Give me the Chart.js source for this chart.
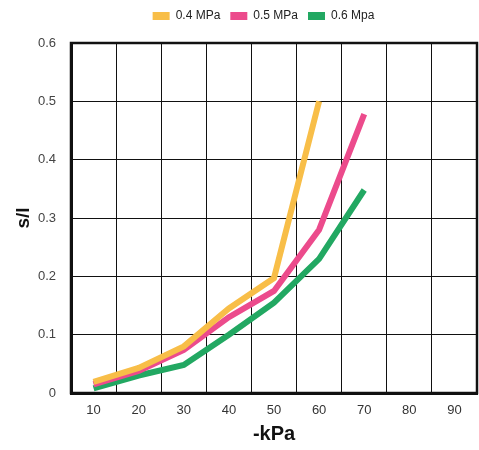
<!DOCTYPE html>
<html>
<head>
<meta charset="utf-8">
<script src="https://cdn.jsdelivr.net/npm/chart.js@4/dist/chart.umd.min.js"></script>
<style>
  html, body { margin: 0; padding: 0; background: #fff; }
  #wrap { width: 479px; height: 450px; }
</style>
</head>
<body>
<div id="wrap"><canvas id="c" width="479" height="450"></canvas></div>
<script>
// s/l vs suction, three pressure curves
const categories = ["10", "20", "30", "40", "50", "60", "70", "80", "90"];
const seriesNames = ["0.4 MPa", "0.5 MPa", "0.6 Mpa"];
const seriesColors = ["#f8be48", "#ec4b8c", "#22a862"];
const mpa04 = [0.019, 0.043, 0.08, 0.145, 0.197, 0.5, null, null, null];
const mpa05 = [0.015, 0.038, 0.074, 0.13, 0.175, 0.28, 0.478, null, null];
const mpa06 = [0.008, 0.03, 0.048, 0.1, 0.155, 0.23, 0.348, null, null];
const yTicks = [0, 0.1, 0.2, 0.3, 0.4, 0.5, 0.6];

const FONT = "'Liberation Sans', Arial, sans-serif";

// frame round the plot area (top + right edges are thick in the original)
const frame = {
  id: "frame",
  afterDatasetsDraw(chart) {
    const { ctx, chartArea: a } = chart;
    ctx.save();
    ctx.strokeStyle = "#111";
    ctx.lineWidth = 2.5;
    ctx.strokeRect(a.left, a.top, a.right - a.left, a.bottom - a.top);
    ctx.restore();
  },
};

// legend: a bit more room under it, and centred over the plot not the canvas
const legendTweak = {
  id: "legendTweak",
  beforeInit(chart) {
    const lg = chart.legend;
    const fit = lg.fit.bind(lg);
    lg.fit = function () { fit(); this.height += 11; };
  },
  afterLayout(chart) {
    chart.legend.left += 25;
    chart.legend.right += 25;
  },
};

new Chart(document.getElementById("c"), {
  type: "line",
  data: {
    labels: categories,
    datasets: [mpa04, mpa05, mpa06].map((d, i) => ({
      label: seriesNames[i],
      data: d,
      borderColor: seriesColors[i],
      backgroundColor: seriesColors[i],
      borderWidth: 6,
      pointRadius: 0,
      tension: 0,
      borderCapStyle: "butt",
      borderJoinStyle: "miter",
      spanGaps: false,
    })),
  },
  options: {
    responsive: false,
    animation: false,
    layout: { padding: { top: 0, right: 2, left: 0, bottom: 0 } },
    plugins: {
      tooltip: { enabled: false },
      legend: {
        position: "top",
        labels: {
          boxWidth: 17,
          boxHeight: 8,
          padding: 10,
          color: "#222",
          font: { family: FONT, size: 12 },
          generateLabels(chart) {
            return Chart.defaults.plugins.legend.labels.generateLabels(chart)
              .map((l) => ({ ...l, lineWidth: 0 }));
          },
        },
      },
    },
    scales: {
      x: {
        offset: true,
        grid: { offset: true, color: "#111", lineWidth: 1, drawTicks: false },
        border: { color: "#111", width: 3 },
        ticks: { color: "#333", padding: 10, font: { family: FONT, size: 13 } },
        title: { display: true, text: "-kPa", color: "#111", padding: { top: 8 }, font: { family: FONT, size: 20, weight: "bold" } },
        afterFit(s) { s.height = 57; },
      },
      y: {
        min: 0,
        max: 0.6,
        afterBuildTicks(s) { s.ticks = yTicks.map((v) => ({ value: v })); },
        grid: { color: "#111", lineWidth: 1, drawTicks: false },
        border: { color: "#111", width: 3 },
        ticks: { color: "#444", padding: 15, font: { family: FONT, size: 13 } },
        title: { display: true, text: "s/l", color: "#111", padding: { top: 12, bottom: 0 }, font: { family: FONT, size: 19, weight: "bold" } },
        afterFit(s) { s.width = 71; },
      },
    },
  },
  plugins: [frame, legendTweak],
});
</script>
</body>
</html>
